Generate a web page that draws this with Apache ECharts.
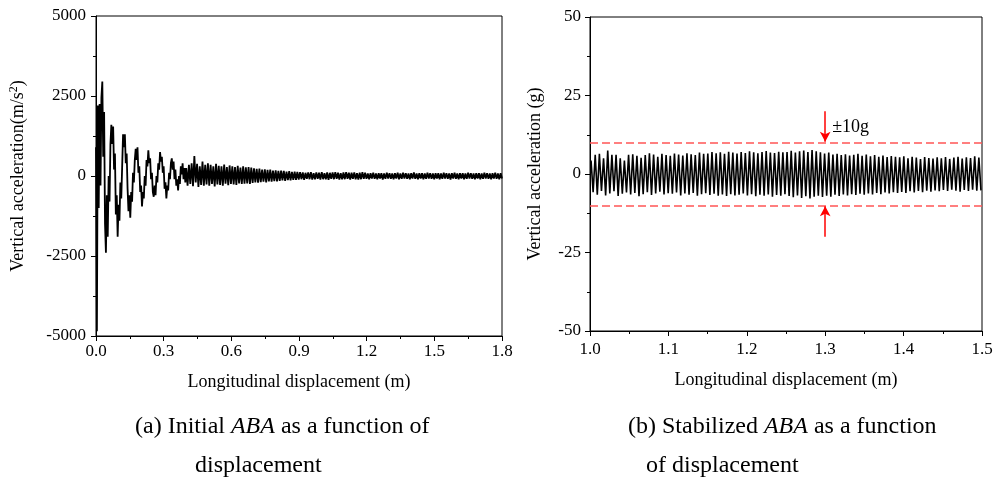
<!DOCTYPE html>
<html>
<head>
<meta charset="utf-8">
<script src="https://cdn.jsdelivr.net/npm/echarts@6/dist/echarts.min.js"></script>
<style>html,body{margin:0;padding:0;background:#fff;}#c{width:998px;height:478px;}</style>
</head>
<body>
<div id="c"></div>
<script>
// ---- Data ----
// Left panel: initial ABA, x = 0 .. 0.396 m, sampled every 0.004 m
const leftEarlyValues = [
 900,-4850,2200,-1000,2250,-300,2450,2950,600,2000,
 -1500,-2400,-600,-1900,0,-800,1000,1600,1000,1550,
 200,700,-1200,-600,-1900,-900,-1400,-200,-700,300,
 1300,900,1300,400,700,-400,-1100,-600,-1300,-500,
 -800,100,-200,500,850,500,900,100,300,-500,
 -300,-950,-500,-700,0,-300,500,300,800,400,
 550,-100,100,-500,-650,-300,-600,0,-200,400,
 200,750,450,600,100,300,-400,-200,-700,-300,
 -450,100,-100,400,550,200,450,-100,200,-300,
 -100,-450,0,-250,300,50,400,-100,250,-200
];
// Left panel: x = 0.4 .. 1.8 m, uniform sampling
const leftLateValues = [
 250,-300,350,-250,400,-320,620,-200,380,-340,300,-280,450,-300,350,-260,400,
 -300,350,-250,300,-330,380,-260,320,-280,300,
 -300,360,-240,280,-290,330,-250,300,-260,280,
 -280,320,-230,260,-250,300,-240,270,-230,280,
 -250,260,-220,
 240,-200,220,-210,230,-190,200,-180,210,-200,
 190,-170,200,-180,170,-160,180,-170,160,-150,
 170,-140,160,-150,140,-130,150,-140,130,-120,
 140,-120,130,
 -110,120,-100,110,-120,100,-90,110,-100,120,
 -110,90,-100,110,-90,100,-110,120,-100,90,
 -100,110,-120,100,-90,110,-100,120,-90,100,
 -110,90,-100,110,-100,120,-90,100,-110,100,
 -90,110,-100,90,-110,100,-100,120,-90,100,
 -90,80,-100,90,-80,100,-90,80,-100,90,
 -80,90,-110,80,-90,100,-80,90,-90,80,
 -100,90,-80,100,-100,80,-90,100,-80,90,
 -90,80,-100,90,-80,110,-90,80,-100,90,
 -80,90,-100,80,-90,100,-80,90,-90,80,
 -100,90,-80,90,-100,80,-90,100,-80,90,
 -90,80,-110,90,-80,100,-90,80,-100,90,
 -80,90,-100,80,-90,100,-80,90,-90,80,
 -100,90,-80,90,-100,80,-90,100,-80,90,
 -90,80,-100,90,-80,100,-90,80,-100,90,
 -80
];
// Right panel: stabilized ABA (g), one peak and one trough per cycle, 1.0 .. 1.5 m
const rightPeaks = [
 4.3,6.1,6.4,5.0,7.5,6.1,6.1,5.0,4.3,6.1,
 6.3,5.8,5.2,6.0,6.6,6.2,5.5,6.4,6.0,
 5.8,6.5,6.2,5.9,6.6,6.3,6.0,6.8,6.4,
 6.5,7.0,6.6,6.9,6.4,7.1,6.8,6.5,7.0,
 6.7,7.2,6.9,6.6,7.0,7.3,6.8,6.7,7.1,6.9,
 7.0,7.4,6.8,7.2,7.5,7.0,7.6,7.2,6.9,
 6.5,6.8,6.2,6.4,6.0,6.3,5.9,6.1,6.4,
 5.8,6.2,5.6,6.0,5.5,5.9,5.4,5.7,5.5,
 5.3,5.6,5.0,5.5,5.2,4.8,5.4,5.1,4.9,5.3,
 5.0,5.4,4.8,5.2,5.5,4.9,5.3,5.1,5.6,5.2
];
const rightTroughs = [
 -5.8,-6.6,-5.4,-6.8,-6.2,-5.5,-7.0,-6.3,-5.9,-6.5,
 -6.0,-7.1,-6.4,-5.8,-6.7,-6.2,-5.6,-6.5,-6.1,
 -6.3,-5.9,-6.8,-6.2,-6.6,-6.0,-6.9,-6.4,-6.1,
 -6.7,-6.3,-6.9,-6.5,-7.0,-6.4,-6.8,-6.6,-6.2,
 -6.8,-6.4,-7.1,-6.6,-6.9,-6.5,-7.2,-6.7,-6.9,-6.4,
 -7.0,-7.4,-6.8,-7.6,-7.1,-7.8,-7.2,-6.9,-7.3,
 -6.9,-7.2,-6.6,-7.0,-6.5,-6.8,-6.4,-6.7,-6.3,
 -6.6,-6.2,-6.5,-6.0,-6.4,-5.9,-6.2,-5.8,-6.0,
 -5.7,-6.0,-5.5,-5.9,-5.4,-5.8,-5.3,-5.6,-5.2,-5.5,
 -5.1,-5.4,-5.0,-5.3,-5.6,-5.1,-5.4,-5.0,-5.3,-5.2
];
const limitValue = 10;        // ±10 g reference lines
const arrowX = 1.3;
const arrowFrom = 20;

// ---- Build series data ----
const leftData = [];
leftEarlyValues.forEach((v, i) => leftData.push([i * 0.004, v]));
const lateStep = 1.4 / (leftLateValues.length - 1);
leftLateValues.forEach((v, i) => leftData.push([0.4 + i * lateStep, v]));

const rightData = [];
const halfStep = 0.5 / (2 * rightPeaks.length);
rightPeaks.forEach((p, i) => {
  rightData.push([1.0 + (2 * i + 0.5) * halfStep, p]);
  rightData.push([1.0 + (2 * i + 1.5) * halfStep, rightTroughs[i]]);
});

const FF = '"Liberation Serif","Times New Roman",serif';
const black = '#000';

function xAxisCfg(gridIndex, min, max, interval, nameGap, margin) {
  return {
    type: 'value', gridIndex, min, max, interval,
    name: 'Longitudinal displacement (m)', nameLocation: 'middle', nameGap,
    nameTextStyle: { fontFamily: FF, fontSize: 18, color: black },
    axisLine: { show: true, onZero: false, lineStyle: { color: black, width: 1 } },
    axisTick: { show: true, inside: false, length: 5, lineStyle: { color: black, width: 1 } },
    minorTick: { show: true, splitNumber: 2, length: 3, lineStyle: { color: black, width: 1 } },
    axisLabel: { color: black, fontFamily: FF, fontSize: 17, margin, formatter: v => v.toFixed(1) },
    splitLine: { show: false }, minorSplitLine: { show: false }
  };
}
function yAxisCfg(gridIndex, min, max, interval, name, nameGap, margin) {
  return {
    type: 'value', gridIndex, min, max, interval,
    name, nameLocation: 'middle', nameGap,
    nameTextStyle: {
      fontFamily: FF, fontSize: 18, color: black,
      rich: { sup: { fontFamily: FF, fontSize: 12, color: black, verticalAlign: 'top', padding: [0, 0, 9, 0] } }
    },
    axisLine: { show: true, onZero: false, lineStyle: { color: black, width: 1 } },
    axisTick: { show: true, inside: false, length: 5, lineStyle: { color: black, width: 1 } },
    minorTick: { show: true, splitNumber: 2, length: 3, lineStyle: { color: black, width: 1 } },
    axisLabel: { color: black, fontFamily: FF, fontSize: 17, margin, formatter: v => String(v) },
    splitLine: { show: false }, minorSplitLine: { show: false }
  };
}

const capRich = {
  n: { fontFamily: FF, fontSize: 24, fill: black, color: black },
  i: { fontFamily: FF, fontSize: 24, fontStyle: 'italic', fill: black, color: black }
};

const chart = echarts.init(document.getElementById('c'), null, { renderer: 'canvas' });
chart.setOption({
  animation: false,
  backgroundColor: '#fff',
  grid: [
    { left: 96, top: 16, width: 406, height: 320, show: true, borderColor: black, borderWidth: 1, backgroundColor: 'transparent' },
    { left: 590, top: 17, width: 392, height: 314, show: true, borderColor: black, borderWidth: 1, backgroundColor: 'transparent' }
  ],
  xAxis: [
    xAxisCfg(0, 0, 1.8, 0.3, 37, 7),
    xAxisCfg(1, 1.0, 1.5, 0.1, 40, 10)
  ],
  yAxis: [
    yAxisCfg(0, -5000, 5000, 2500, 'Vertical acceleration(m/s{sup|2})', 67, 10),
    yAxisCfg(1, -50, 50, 25, 'Vertical acceleration (g)', 46, 9)
  ],
  series: [
    {
      type: 'line', xAxisIndex: 0, yAxisIndex: 0, data: leftData,
      showSymbol: false, symbol: 'none', lineStyle: { color: black, width: 1.8 }, silent: true
    },
    {
      type: 'line', xAxisIndex: 1, yAxisIndex: 1, data: rightData,
      showSymbol: false, symbol: 'none', lineStyle: { color: black, width: 1.6 }, silent: true,
      markLine: {
        silent: true, symbol: 'none', animation: false,
        label: { show: false },
        lineStyle: { color: '#ff5555', width: 1.5, type: [8, 4] },
        data: [{ yAxis: limitValue }, { yAxis: -limitValue }]
      }
    },
    {
      type: 'line', xAxisIndex: 1, yAxisIndex: 1, data: [],
      markLine: {
        silent: true, animation: false, symbol: ['none', 'arrow'], symbolSize: [8, 10],
        label: { show: false },
        lineStyle: { color: '#ff0000', width: 1.5, type: 'solid' },
        data: [
          [{ coord: [arrowX, arrowFrom] }, { coord: [arrowX, limitValue + 0.3] }],
          [{ coord: [arrowX, -arrowFrom] }, { coord: [arrowX, -limitValue - 0.3] }]
        ]
      },
      markPoint: {
        silent: true, animation: false, symbol: 'circle', symbolSize: 0,
        label: { show: true, position: 'right', distance: 7, formatter: '±10g', color: black, fontFamily: FF, fontSize: 18 },
        data: [{ coord: [arrowX, 15] }]
      }
    }
  ],
  graphic: [
    { type: 'text', left: 135, top: 415, style: { text: '{n|(a) Initial }{i|ABA}{n| as a function of}', rich: capRich, fill: black } },
    { type: 'text', left: 195, top: 454, style: { text: '{n|displacement}', rich: capRich, fill: black } },
    { type: 'text', left: 628, top: 415, style: { text: '{n|(b) Stabilized }{i|ABA}{n| as a function}', rich: capRich, fill: black } },
    { type: 'text', left: 646, top: 454, style: { text: '{n|of displacement}', rich: capRich, fill: black } }
  ]
});
</script>
</body>
</html>
